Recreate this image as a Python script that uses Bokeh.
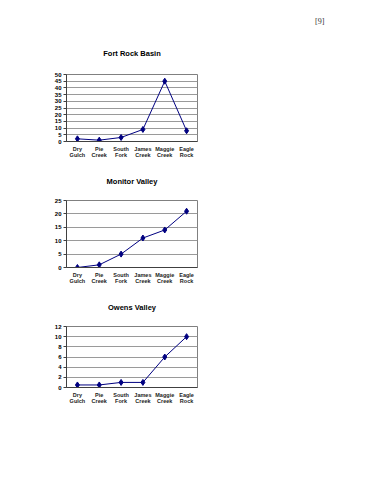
from bokeh.plotting import figure
from bokeh.models import Div, FactorRange, Range1d, FixedTicker
from bokeh.layouts import column
from bokeh.embed import file_html
from bokeh.resources import INLINE

categories = ["Dry\nGulch", "Pie\nCreek", "South\nFork", "James\nCreek", "Maggie\nCreek", "Eagle\nRock"]

fort_rock = [2, 1, 3, 9, 45, 8]
monitor = [0, 1, 5, 11, 14, 21]
owens = [0.5, 0.5, 1, 1, 6, 10]

fort_ticks = [0, 5, 10, 15, 20, 25, 30, 35, 40, 45, 50]
monitor_ticks = [0, 5, 10, 15, 20, 25]
owens_ticks = [0, 2, 4, 6, 8, 10, 12]

page_label = "[9]"
titles = ["Fort Rock Basin", "Monitor Valley", "Owens Valley"]

FONT = "Liberation Sans"
NAVY = "#000080"


def make_chart(title, values, ticks, height, top, bottom, standoff):
    p = figure(width=370, height=height, x_range=FactorRange(*categories),
               y_range=Range1d(ticks[0], ticks[-1]),
               output_backend="svg", toolbar_location=None,
               min_border_left=66, min_border_right=173,
               min_border_top=top, min_border_bottom=bottom)
    p.title.text = title
    p.title.align = "center"
    p.title.text_font = FONT
    p.title.text_font_style = "bold"
    p.title.text_font_size = "7.5px"
    p.title.text_line_height = 1.0
    p.title.text_color = "black"
    p.title.standoff = standoff

    p.line(categories, values, line_color=NAVY, line_width=1)
    p.scatter(categories, values, marker="diamond", size=6,
              fill_color=NAVY, line_color=NAVY)

    p.yaxis.ticker = FixedTicker(ticks=ticks)
    p.yaxis.minor_tick_line_color = None
    p.yaxis.major_tick_out = 3
    p.yaxis.major_tick_in = 0
    p.yaxis.major_label_standoff = 2
    p.yaxis.major_label_text_font = FONT
    p.yaxis.major_label_text_font_style = "bold"
    p.yaxis.major_label_text_font_size = "6px"
    p.yaxis.major_label_text_color = "black"
    p.yaxis.axis_line_color = "#404040"
    p.yaxis.major_tick_line_color = "#404040"

    p.xaxis.major_tick_line_color = None
    p.xaxis.major_tick_out = 0
    p.xaxis.major_tick_in = 0
    p.xaxis.major_label_standoff = 4
    p.xaxis.major_label_text_font = FONT
    p.xaxis.major_label_text_font_style = "bold"
    p.xaxis.major_label_text_font_size = "5.5px"
    p.xaxis.major_label_text_line_height = 1.0
    p.xaxis.major_label_text_color = "#222222"
    p.xaxis.axis_line_color = "#404040"

    p.xgrid.grid_line_color = None
    p.ygrid.grid_line_color = "#9a9a9a"
    p.ygrid.grid_line_width = 1
    p.outline_line_color = "#808080"
    p.background_fill_color = "white"
    p.border_fill_color = "white"
    return p


page = Div(text=f'<div style="padding-left:310px;padding-top:13px;font-family:\'Liberation Serif\';font-size:8px;line-height:7px;color:#333">{page_label}</div>',
           width=370, height=20)

f1 = make_chart(titles[0], fort_rock, fort_ticks, 130, 44, 19, 33)
f2 = make_chart(titles[1], monitor, monitor_ticks, 126, 39, 19, 29)
f3 = make_chart(titles[2], owens, owens_ticks, 124, 39, 23, 29)

layout = column(page, f1, f2, f3, spacing=0)

open("out.html", "w").write(file_html(layout, INLINE))
